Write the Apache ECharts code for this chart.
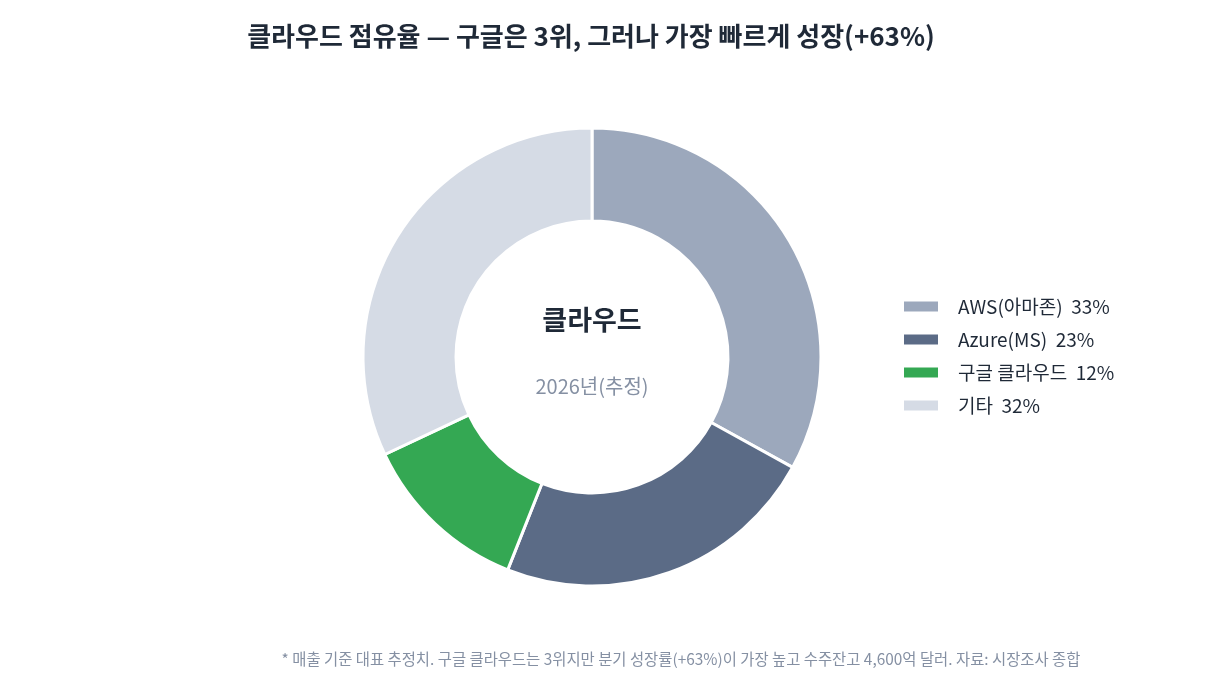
<!DOCTYPE html>
<html>
<head>
<meta charset="utf-8">
<style>
  html, body { margin: 0; padding: 0; background: #ffffff; }
  #chart { width: 1230px; height: 690px; }
</style>
<script src="https://cdn.jsdelivr.net/npm/echarts@6/dist/echarts.min.js"></script>
</head>
<body>
<div id="chart"></div>
<script>
// 2026년 클라우드 점유율 (추정, %)
var names = ["AWS(아마존)", "Azure(MS)", "구글 클라우드", "기타"];
var shares = [33, 23, 12, 32];
var colors = ["#9ca8bc", "#5b6b86", "#34a853", "#d5dbe5"];

var font = "'Noto Sans CJK KR', 'Noto Sans', sans-serif";

var chart = echarts.init(document.getElementById("chart"));

var pieData = names.map(function (n, i) {
    return { name: n, value: shares[i], itemStyle: { color: colors[i] } };
});

var option = {
    backgroundColor: "#ffffff",
    animation: false,
    title: {
        text: "클라우드 점유율 — 구글은 3위, 그러나 가장 빠르게 성장(+63%)",
        left: 586,
        top: 18,
        textAlign: "center",
        textStyle: {
            fontFamily: font,
            fontSize: 26,
            fontWeight: "bold",
            color: "#1f2937"
        }
    },
    legend: {
        orient: "vertical",
        left: 897,
        top: 291,
        itemWidth: 36,
        itemHeight: 12,
        itemGap: 12,
        icon: "rect",
        selectedMode: false,
        formatter: function (name) {
            var i = names.indexOf(name);
            return name + "  " + shares[i] + "%";
        },
        textStyle: {
            fontFamily: font,
            fontSize: 19,
            lineHeight: 21,
            color: "#1f2937",
            padding: [0, 0, 0, 14]
        },
        data: names
    },
    graphic: [
        {
            type: "text",
            style: {
                text: "클라우드",
                x: 592,
                y: 320,
                textAlign: "center",
                textVerticalAlign: "middle",
                font: "bold 27px " + font,
                fill: "#1f2937"
            }
        },
        {
            type: "text",
            style: {
                text: "2026년(추정)",
                x: 592,
                y: 386,
                textAlign: "center",
                textVerticalAlign: "middle",
                font: "20px " + font,
                fill: "#8590a3"
            }
        },
        {
            type: "text",
            style: {
                text: "* 매출 기준 대표 추정치. 구글 클라우드는 3위지만 분기 성장률(+63%)이 가장 높고 수주잔고 4,600억 달러. 자료: 시장조사 종합",
                x: 681,
                y: 659,
                textAlign: "center",
                textVerticalAlign: "middle",
                font: "15.4px " + font,
                fill: "#8590a3"
            }
        }
    ],
    series: [
        {
            type: "pie",
            center: [592, 357],
            radius: [136, 229],
            startAngle: 90,
            clockwise: true,
            label: { show: false },
            labelLine: { show: false },
            emphasis: { disabled: true },
            itemStyle: { borderColor: "#ffffff", borderWidth: 3 },
            data: pieData
        }
    ]
};

chart.setOption(option);
window.addEventListener("resize", chart.resize);
</script>
</body>
</html>
